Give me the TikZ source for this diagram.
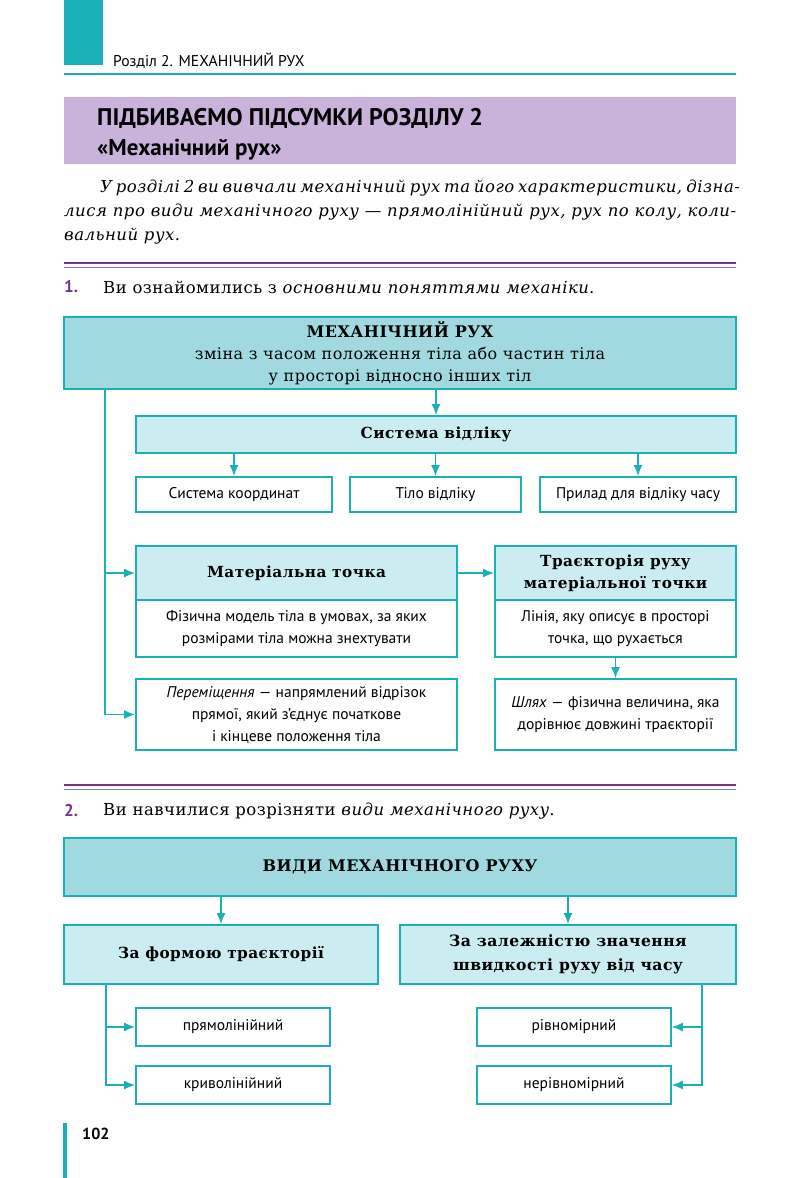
\documentclass[tikz,border=0pt]{standalone}
\usepackage{fontspec}
\setmainfont{DejaVu Serif}[LetterSpace=3]
\setsansfont{PT Sans}
\usetikzlibrary{arrows.meta}

\definecolor{tealdark}{RGB}{25,176,184}
\definecolor{tealmid}{RGB}{160,217,224}
\definecolor{teallight}{RGB}{203,236,240}
\definecolor{lilac}{RGB}{201,179,218}
\definecolor{plum}{RGB}{116,52,140}
\definecolor{plumsoft}{RGB}{150,110,185}

\tikzset{
  box/.style={draw=tealdark, line width=1.8pt, fill=white, inner sep=0pt,
    align=center, font=\sffamily\fontsize{15.5}{22}\selectfont},
  bigbox/.style={box, fill=tealmid, font=\fontsize{16}{22}\selectfont},
  headbox/.style={box, fill=teallight, font=\bfseries\fontsize{15.3}{22}\selectfont},
  arr/.style={draw=tealdark, line width=1.5pt, -{Latex[length=11pt,width=9pt]}},
  txt/.style={inner sep=0pt, anchor=west}
}

\begin{document}
\begin{tikzpicture}[x=1pt, y=-1pt]
\useasboundingbox (0,0) rectangle (800,1178);

% page head
\fill[tealdark] (64,0) rectangle (103,65);
\draw[tealdark, line width=2pt] (64,74) -- (736,74);
\node[txt] (head) at (113,61) {\sffamily\fontsize{15.6}{18}\selectfont Розділ 2. МЕХАНІЧНИЙ РУХ};

% title band
\fill[lilac] (64,97) rectangle (736,164);
\node[txt] (ttl1) at (97,118) {\sffamily\bfseries\fontsize{24}{28}\selectfont ПІДБИВАЄМО ПІДСУМКИ РОЗДІЛУ 2};
\node[txt] (ttl2) at (97,150) {\sffamily\bfseries\fontsize{23}{26}\selectfont «Механічний рух»};

% intro
\node[txt] (p1) at (100,188) {\itshape\fontsize{16.5}{24}\selectfont\makebox[636pt][s]{У розділі 2 ви вивчали механічний рух та його характеристики, дізна-}};
\node[txt] (p2) at (64,212) {\itshape\fontsize{16.5}{24}\selectfont\makebox[672pt][s]{лися про види механічного руху — прямолінійний рух, рух по колу, коли-}};
\node[txt] (p3) at (64,236) {\itshape\fontsize{16.5}{24}\selectfont вальний рух.};

% part 1
\draw[plum, line width=2.5pt] (64,263) -- (736,263);
\draw[plumsoft, line width=1.5pt] (64,267.5) -- (736,267.5);
\node[txt] (n1) at (64,287) {\sffamily\bfseries\fontsize{17}{20}\selectfont\color{plum}1.};
\node[txt] (s1) at (103,287) {\fontsize{16.5}{22}\selectfont Ви ознайомились з \textit{основними поняттями механіки}.};

\node[bigbox, minimum width=672pt, minimum height=72pt] (mr) at (400,353)
  {{\bfseries МЕХАНІЧНИЙ РУХ}\\ зміна з часом положення тіла або частин тіла\\ у просторі відносно інших тіл};
\node[headbox, minimum width=600pt, minimum height=37pt] (sv) at (436,434.5) {Система відліку};
\node[box, minimum width=196pt, minimum height=35pt] (sk) at (234,494.5) {Система координат};
\node[box, minimum width=171pt, minimum height=35pt] (tv) at (435.5,494.5) {Тіло відліку};
\node[box, minimum width=196pt, minimum height=35pt] (pv) at (638,494.5) {Прилад для відліку часу};

\draw[arr] (sv.north |- mr.south) -- (sv.north);
\draw[arr] (sk.north |- sv.south) -- (sk.north);
\draw[arr] (tv.north |- sv.south) -- (tv.north);
\draw[arr] (pv.north |- sv.south) -- (pv.north);

\node[headbox, minimum width=321pt, minimum height=54pt] (mt) at (296.5,573) {Матеріальна точка};
\node[box, minimum width=321pt, minimum height=57pt] (mtb) at (296.5,628.5)
  {Фізична модель тіла в умовах, за яких\\розмірами тіла можна знехтувати};
\node[headbox, minimum width=241pt, minimum height=54pt] (tr) at (615.5,573)
  {Траєкторія руху\\матеріальної точки};
\node[box, minimum width=241pt, minimum height=57pt] (trb) at (615.5,628.5)
  {Лінія, яку описує в просторі\\точка, що рухається};
\node[box, minimum width=321pt, minimum height=71pt] (pm) at (296.5,714.5)
  {\textit{Переміщення} — напрямлений відрізок\\прямої, який з’єднує початкове\\і кінцеве положення тіла};
\node[box, minimum width=241pt, minimum height=71pt] (sl) at (615.5,714.5)
  {\textit{Шлях} — фізична величина, яка\\дорівнює довжині траєкторії};

\coordinate (lt) at (105,389);
\draw[arr] (lt) |- (mt.west);
\draw[arr] (lt) |- (pm.west);
\draw[arr] (mt.east) -- (tr.west);
\draw[arr] (trb.south) -- (sl.north);

% part 2
\draw[plum, line width=2.5pt] (64,785) -- (736,785);
\draw[plumsoft, line width=1.5pt] (64,789.5) -- (736,789.5);
\node[txt] (n2) at (64,811) {\sffamily\bfseries\fontsize{17}{20}\selectfont\color{plum}2.};
\node[txt] (s2) at (103,811) {\fontsize{16.5}{22}\selectfont Ви навчилися розрізняти \textit{види механічного руху}.};

\node[bigbox, minimum width=672pt, minimum height=58pt] (vm) at (400,867) {\bfseries ВИДИ МЕХАНІЧНОГО РУХУ};
\node[headbox, minimum width=314pt, minimum height=59pt] (ft) at (221,954.5) {За формою траєкторії};
\node[headbox, minimum width=336pt, minimum height=59pt, font=\bfseries\fontsize{15.6}{24}\selectfont] (zl) at (568,954.5)
  {За залежністю значення\\швидкості руху від часу};
\draw[arr] (ft.north |- vm.south) -- (ft.north);
\draw[arr] (zl.north |- vm.south) -- (zl.north);

\node[box, minimum width=194pt, minimum height=38pt] (pr) at (233,1027) {прямолінійний};
\node[box, minimum width=194pt, minimum height=38pt] (kr) at (233,1085) {криволінійний};
\node[box, minimum width=194pt, minimum height=38pt] (rv) at (574,1027) {рівномірний};
\node[box, minimum width=194pt, minimum height=38pt] (nrv) at (574,1085) {нерівномірний};

\coordinate (lb) at (106,984);
\coordinate (rb) at (702,984);
\draw[arr] (lb) |- (pr.west);
\draw[arr] (lb) |- (kr.west);
\draw[arr] (rb) |- (rv.east);
\draw[arr] (rb) |- (nrv.east);

% page number
\fill[tealdark] (63,1123) rectangle (67,1178);
\node[txt] (pg) at (82,1134) {\sffamily\bfseries\fontsize{16}{18}\selectfont 102};
\end{tikzpicture}
\end{document}
